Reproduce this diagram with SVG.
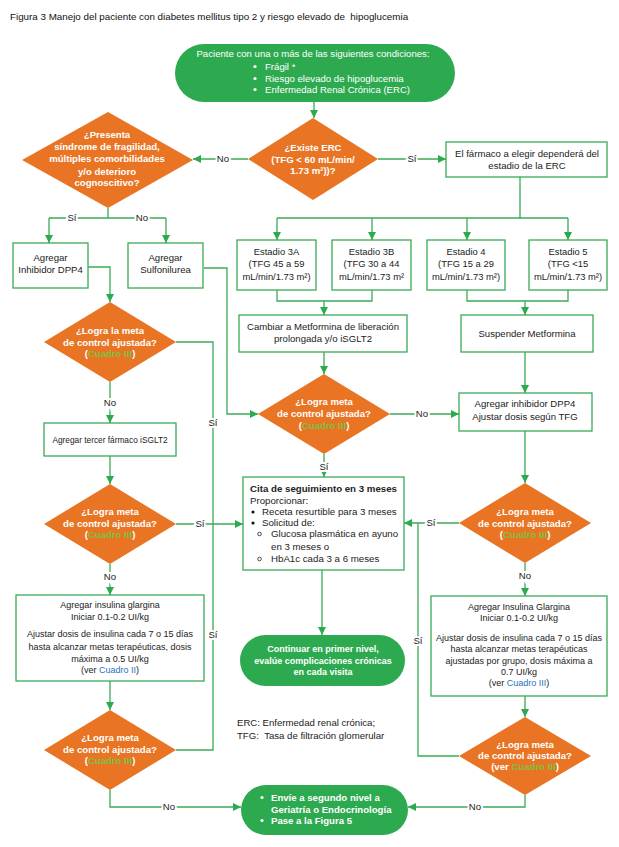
<svg xmlns="http://www.w3.org/2000/svg" width="619" height="847" viewBox="0 0 619 847">
<style>
text{font-family:"Liberation Sans",Arial,sans-serif;}
.box{fill:#fff;stroke:#3BAA57;stroke-width:1.3;}
.pill{fill:#2DAA4F;stroke:none;}
.dia{fill:#E87424;stroke:none;}
.t{font-size:9.6px;fill:#222;text-anchor:middle;}
.ts{font-size:9.4px;fill:#222;text-anchor:middle;}
.ti{font-size:9px;fill:#222;text-anchor:middle;}
.tl{font-size:9.7px;fill:#222;}
.tw{font-size:9.6px;fill:#fff;text-anchor:middle;}
.tb{font-size:9.6px;fill:#fff;font-weight:bold;text-anchor:middle;}
.tb9{font-size:9px;fill:#fff;font-weight:bold;text-anchor:middle;}
.tbl{font-size:9.6px;fill:#fff;font-weight:bold;}
.cg{fill:#7DC242;}
.cb{fill:#1E73BE;}
.ln{fill:none;stroke:#3BAA57;stroke-width:1.3;}
.ar{marker-end:url(#ah);}
.lab{font-size:9.6px;fill:#222;text-anchor:middle;stroke:#fff;stroke-width:4;paint-order:stroke;}
</style>
<defs>
<marker id="ah" markerUnits="userSpaceOnUse" markerWidth="9" markerHeight="9" refX="8" refY="4" orient="auto">
<path d="M0,0 L8,4 L0,8 z" fill="#2DAA4F"/>
</marker>
</defs>
<rect width="619" height="847" fill="#fff"/>
<text x="10" y="20" style="font-size:9.8px;fill:#111;">Figura 3 Manejo del paciente con diabetes mellitus tipo 2 y riesgo elevado de &#160;hipoglucemia</text>

<g id="connectors">
<path class="ln ar" d="M314,102 V118"/>
<path class="ln ar" d="M248,159 H193"/>
<path class="ln ar" d="M378,159 H446"/>
<path class="ln" d="M520,177 V218 M277,218 H568"/>
<path class="ln ar" d="M277,218 V240"/>
<path class="ln ar" d="M372,218 V240"/>
<path class="ln ar" d="M467,218 V240"/>
<path class="ln ar" d="M568,218 V240"/>
<path class="ln" d="M277,290 V301 H372 V290"/>
<path class="ln ar" d="M324,301 V315"/>
<path class="ln" d="M467,290 V301 H568 V290"/>
<path class="ln ar" d="M525,301 V315"/>
<path class="ln ar" d="M324,352 V374"/>
<path class="ln ar" d="M525,352 V393"/>
<path class="ln ar" d="M390,414 H459"/>
<path class="ln ar" d="M204,268 H227 V414 H258"/>
<path class="ln ar" d="M324,454 V477"/>
<path class="ln" d="M108,208 V218 M49,218 H166"/>
<path class="ln ar" d="M49,218 V243"/>
<path class="ln ar" d="M166,218 V243"/>
<path class="ln ar" d="M88,267 H110 V302"/>
<path class="ln" d="M176,342 H213 V750 H176"/>
<path class="ln ar" d="M176,524 H243"/>
<path class="ln ar" d="M110,382 V423"/>
<path class="ln ar" d="M110,456 V484"/>
<path class="ln ar" d="M110,564 V595"/>
<path class="ln ar" d="M110,681 V710"/>
<path class="ln ar" d="M110,790 V807 H241"/>
<path class="ln ar" d="M525,431 V483"/>
<path class="ln ar" d="M459,523 H404"/>
<path class="ln" d="M418,523 V756 H459"/>
<path class="ln ar" d="M525,563 V596"/>
<path class="ln ar" d="M525,696 V717"/>
<path class="ln ar" d="M525,795 V807 H408"/>
<path class="ln ar" d="M322,570 V635"/>
<text class="lab" x="223" y="162">No</text>
<text class="lab" x="412" y="162">Sí</text>
<text class="lab" x="72" y="221">Sí</text>
<text class="lab" x="142" y="221">No</text>
<text class="lab" x="422" y="417">No</text>
<text class="lab" x="324" y="470">Sí</text>
<text class="lab" x="110" y="406">No</text>
<text class="lab" x="213" y="426">Sí</text>
<text class="lab" x="200" y="527">Sí</text>
<text class="lab" x="110" y="580">No</text>
<text class="lab" x="213" y="638">Sí</text>
<text class="lab" x="169" y="810">No</text>
<text class="lab" x="431" y="526">Sí</text>
<text class="lab" x="525" y="579">No</text>
<text class="lab" x="418" y="644">Sí</text>
<text class="lab" x="475" y="810">No</text>
</g>

<g id="start">
<rect class="pill" x="175" y="44" width="280" height="58" rx="29"/>
<text class="tw" x="313" y="57">Paciente con una o más de las siguientes condiciones:</text>
<circle cx="255" cy="66.5" r="1.6" fill="#fff"/><text class="tw" x="265" y="70" style="text-anchor:start">Frágil *</text>
<circle cx="255" cy="78.5" r="1.6" fill="#fff"/><text class="tw" x="265" y="82" style="text-anchor:start">Riesgo elevado de hipoglucemia</text>
<circle cx="255" cy="89.5" r="1.6" fill="#fff"/><text class="tw" x="265" y="93" style="text-anchor:start">Enfermedad Renal Crónica (ERC)</text>
</g>

<g id="erc">
<polygon class="dia" points="313,118 378,159 313,200 248,159"/>
<text class="tb" x="313" y="151">¿Existe ERC</text>
<text class="tb" x="313" y="163">(TFG &lt; 60 mL/min/</text>
<text class="tb" x="313" y="174">1.73 m²))?</text>
</g>

<g id="fragilidad">
<polygon class="dia" points="108,112 193,160 108,208 22,160"/>
<text class="tb" x="107" y="138">¿Presenta</text>
<text class="tb" x="107" y="150">síndrome de fragilidad,</text>
<text class="tb" x="107" y="162">múltiples comorbilidades</text>
<text class="tb" x="107" y="175">y/o deterioro</text>
<text class="tb" x="107" y="186">cognoscitivo?</text>
</g>

<g id="farmaco">
<rect class="box" x="446" y="142" width="161" height="35"/>
<text class="t" x="527" y="157">El fármaco a elegir dependerá del</text>
<text class="t" x="527" y="169">estadio de la ERC</text>
</g>

<g id="estadio3a">
<rect class="box" x="237" y="240" width="79" height="50"/>
<text class="ts" x="276.5" y="255">Estadio 3A</text>
<text class="ts" x="276.5" y="267">(TFG 45 a 59</text>
<text class="ts" x="276.5" y="280">mL/min/1.73 m²)</text>
</g>
<g id="estadio3b">
<rect class="box" x="332" y="240" width="79" height="50"/>
<text class="ts" x="371.5" y="255">Estadio 3B</text>
<text class="ts" x="371.5" y="267">(TFG 30 a 44</text>
<text class="ts" x="371.5" y="280">mL/min/1.73 m²</text>
</g>
<g id="estadio4">
<rect class="box" x="427" y="240" width="78" height="50"/>
<text class="ts" x="466" y="255">Estadio 4</text>
<text class="ts" x="466" y="267">(TFG 15 a 29</text>
<text class="ts" x="466" y="280">mL/min/1.73 m²)</text>
</g>
<g id="estadio5">
<rect class="box" x="529" y="240" width="78" height="50"/>
<text class="ts" x="568" y="255">Estadio 5</text>
<text class="ts" x="568" y="267">(TFG &lt;15</text>
<text class="ts" x="568" y="280">mL/min/1.73 m²)</text>
</g>

<g id="cambiar">
<rect class="box" x="239" y="315" width="168" height="37"/>
<text class="t" x="323" y="330">Cambiar a Metformina de liberación</text>
<text class="t" x="323" y="342">prolongada y/o iSGLT2</text>
</g>
<g id="suspender">
<rect class="box" x="461" y="315" width="132" height="37"/>
<text class="t" x="527" y="337">Suspender Metformina</text>
</g>

<g id="meta-centro">
<polygon class="dia" points="324,374 390,414 324,454 258,414"/>
<text class="tb" x="324" y="405">¿Logra meta</text>
<text class="tb" x="324" y="417">de control ajustada?</text>
<text class="tb" x="324" y="429">(<tspan class="cg">Cuadro III</tspan>)</text>
</g>

<g id="dpp4-derecha">
<rect class="box" x="459" y="393" width="133" height="38"/>
<text class="t" x="525" y="407">Agregar inhibidor DPP4</text>
<text class="t" x="525" y="420">Ajustar dosis según TFG</text>
</g>

<g id="dpp4-izq">
<rect class="box" x="13" y="243" width="75" height="45"/>
<text class="t" x="50.5" y="261">Agregar</text>
<text class="t" x="50.5" y="273">Inhibidor DPP4</text>
</g>
<g id="sulfonilurea">
<rect class="box" x="128" y="243" width="75" height="45"/>
<text class="t" x="165.5" y="261">Agregar</text>
<text class="t" x="165.5" y="273">Sulfonilurea</text>
</g>

<g id="meta1">
<polygon class="dia" points="110,302 176,342 110,382 44,342"/>
<text class="tb" x="110" y="334">¿Logra la meta</text>
<text class="tb" x="110" y="346">de control ajustada?</text>
<text class="tb" x="110" y="357">(<tspan class="cg">Cuadro III</tspan>)</text>
</g>

<g id="isglt2">
<rect class="box" x="44" y="423" width="132" height="33"/>
<text class="t" x="110" y="443" style="font-size:8.3px">Agregar tercer fármaco iSGLT2</text>
</g>

<g id="meta2">
<polygon class="dia" points="110,484 176,524 110,564 44,524"/>
<text class="tb" x="110" y="515">¿Logra meta</text>
<text class="tb" x="110" y="527">de control ajustada?</text>
<text class="tb" x="110" y="538">(<tspan class="cg">Cuadro III</tspan>)</text>
</g>

<g id="insulina-izq">
<rect class="box" x="16" y="595" width="188" height="86"/>
<text class="ti" x="110" y="608">Agregar insulina glargina</text>
<text class="ti" x="110" y="620">Iniciar 0.1-0.2 UI/kg</text>
<text class="ti" x="110" y="637">Ajustar dosis de insulina cada 7 o 15 días</text>
<text class="ti" x="110" y="650">hasta alcanzar metas terapéuticas, dosis</text>
<text class="ti" x="110" y="662">máxima a 0.5 UI/kg</text>
<text class="ti" x="110" y="673">(ver <tspan class="cb">Cuadro II</tspan>)</text>
</g>

<g id="meta3">
<polygon class="dia" points="110,710 176,750 110,790 44,750"/>
<text class="tb" x="110" y="741">¿Logra meta</text>
<text class="tb" x="110" y="753">de control ajustada?</text>
<text class="tb" x="110" y="764">(<tspan class="cg">Cuadro III</tspan>)</text>
</g>

<g id="cita">
<rect class="box" x="243" y="477" width="161" height="93"/>
<text class="tl" x="250" y="492" style="font-weight:bold">Cita de seguimiento en 3 meses</text>
<text class="tl" x="250" y="504">Proporcionar:</text>
<circle cx="253" cy="512" r="1.6" fill="#111"/>
<text class="tl" x="262" y="515">Receta resurtible para 3 meses</text>
<circle cx="253" cy="523" r="1.6" fill="#111"/>
<text class="tl" x="262" y="526">Solicitud de:</text>
<circle cx="259.5" cy="534" r="1.8" fill="none" stroke="#222" stroke-width="0.8"/>
<text class="tl" x="271" y="537">Glucosa plasmática en ayuno</text>
<text class="tl" x="271" y="550">en 3 meses o</text>
<circle cx="259.5" cy="559" r="1.8" fill="none" stroke="#222" stroke-width="0.8"/>
<text class="tl" x="271" y="562">HbA1c cada 3 a 6 meses</text>
</g>

<g id="meta-derecha">
<polygon class="dia" points="525,483 591,523 525,563 459,523"/>
<text class="tb" x="525" y="515">¿Logra meta</text>
<text class="tb" x="525" y="527">de control ajustada?</text>
<text class="tb" x="525" y="538">(<tspan class="cg">Cuadro III</tspan>)</text>
</g>

<g id="insulina-der">
<rect class="box" x="431" y="596" width="176" height="100"/>
<text class="ti" x="519" y="610">Agregar Insulina Glargina</text>
<text class="ti" x="519" y="621">Iniciar 0.1-0.2 UI/kg</text>
<text class="ti" x="519" y="641">Ajustar dosis de insulina cada 7 o 15 días</text>
<text class="ti" x="519" y="652">hasta alcanzar metas terapéuticas</text>
<text class="ti" x="519" y="664">ajustadas por grupo, dosis máxima a</text>
<text class="ti" x="519" y="675">0.7 UI/kg</text>
<text class="ti" x="519" y="686">(ver <tspan class="cb">Cuadro III</tspan>)</text>
</g>

<g id="meta4">
<polygon class="dia" points="525,717 591,756 525,795 459,756"/>
<text class="tb" x="525" y="748">¿Logra meta</text>
<text class="tb" x="525" y="759">de control ajustada?</text>
<text class="tb" x="525" y="770">(ver <tspan class="cg">Cuadro III</tspan>)</text>
</g>

<g id="continuar">
<rect class="pill" x="240" y="635" width="165" height="51" rx="25.5"/>
<text class="tb9" x="323" y="652">Continuar en primer nivel,</text>
<text class="tb9" x="323" y="664">evalúe complicaciones crónicas</text>
<text class="tb9" x="323" y="675">en cada visita</text>
</g>

<g id="segundo-nivel">
<rect class="pill" x="241" y="785" width="167" height="50" rx="25"/>
<circle cx="262" cy="797.5" r="1.6" fill="#fff"/>
<text class="tbl" x="271" y="801">Envíe a segundo nivel a</text>
<text class="tbl" x="271" y="813">Geriatría o Endocrinología</text>
<circle cx="262" cy="820.5" r="1.6" fill="#fff"/>
<text class="tbl" x="271" y="824">Pase a la Figura 5</text>
</g>

<g id="leyenda">
<text class="tl" x="237" y="726" style="font-size:9.6px">ERC: Enfermedad renal crónica;</text>
<text class="tl" x="237" y="739" style="font-size:9.6px">TFG: &#160;Tasa de filtración glomerular</text>
</g>
</svg>
